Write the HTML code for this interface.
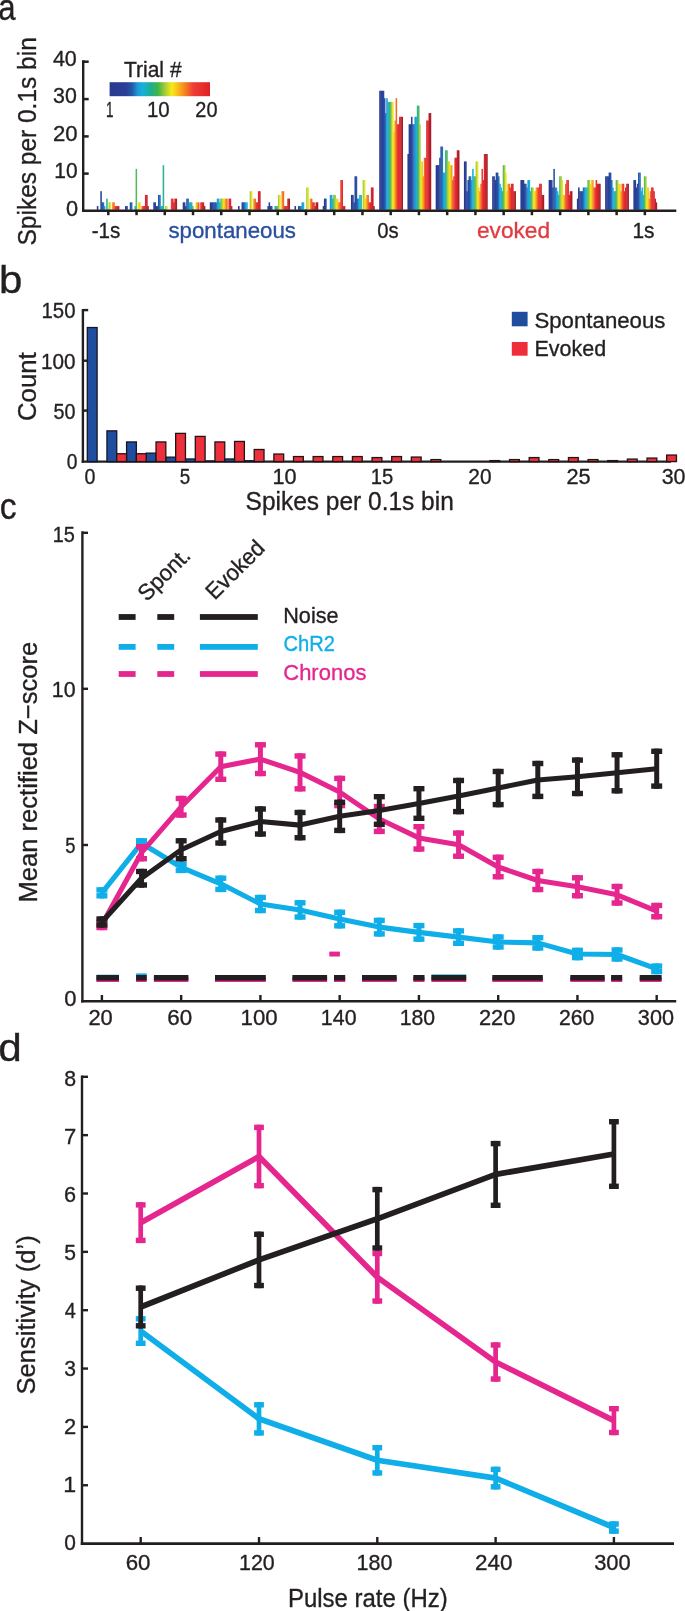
<!DOCTYPE html>
<html><head><meta charset="utf-8"><style>
html,body{margin:0;padding:0;background:#fff;overflow:hidden;}
svg{display:block;will-change:transform;}
text{font-family:"Liberation Sans",sans-serif;paint-order:stroke;stroke-width:0.35px;stroke-linejoin:round;}
</style></head><body>
<svg width="685" height="1611" viewBox="0 0 685 1611" font-family="Liberation Sans, sans-serif">
<rect x="0" y="0" width="685" height="1611" fill="#fff"/>
<text x="-1.72" y="19.95" font-size="36.00" fill="#231f20" stroke="#231f20" textLength="17.32" lengthAdjust="spacingAndGlyphs">a</text>
<text transform="translate(35.80,245.51) rotate(-90)" font-size="26.00" fill="#231f20" stroke="#231f20" textLength="208.30" lengthAdjust="spacingAndGlyphs">Spikes per 0.1s bin</text>
<line x1="108.30" y1="209.50" x2="108.30" y2="215.20" stroke="#231f20" stroke-width="2.5" stroke-linecap="butt"/>
<line x1="136.54" y1="209.50" x2="136.54" y2="215.20" stroke="#231f20" stroke-width="2.5" stroke-linecap="butt"/>
<line x1="164.78" y1="209.50" x2="164.78" y2="215.20" stroke="#231f20" stroke-width="2.5" stroke-linecap="butt"/>
<line x1="193.02" y1="209.50" x2="193.02" y2="215.20" stroke="#231f20" stroke-width="2.5" stroke-linecap="butt"/>
<line x1="221.26" y1="209.50" x2="221.26" y2="215.20" stroke="#231f20" stroke-width="2.5" stroke-linecap="butt"/>
<line x1="249.50" y1="209.50" x2="249.50" y2="215.20" stroke="#231f20" stroke-width="2.5" stroke-linecap="butt"/>
<line x1="277.74" y1="209.50" x2="277.74" y2="215.20" stroke="#231f20" stroke-width="2.5" stroke-linecap="butt"/>
<line x1="305.98" y1="209.50" x2="305.98" y2="215.20" stroke="#231f20" stroke-width="2.5" stroke-linecap="butt"/>
<line x1="334.22" y1="209.50" x2="334.22" y2="215.20" stroke="#231f20" stroke-width="2.5" stroke-linecap="butt"/>
<line x1="362.46" y1="209.50" x2="362.46" y2="215.20" stroke="#231f20" stroke-width="2.5" stroke-linecap="butt"/>
<line x1="390.70" y1="209.50" x2="390.70" y2="215.20" stroke="#231f20" stroke-width="2.5" stroke-linecap="butt"/>
<line x1="418.94" y1="209.50" x2="418.94" y2="215.20" stroke="#231f20" stroke-width="2.5" stroke-linecap="butt"/>
<line x1="447.18" y1="209.50" x2="447.18" y2="215.20" stroke="#231f20" stroke-width="2.5" stroke-linecap="butt"/>
<line x1="475.42" y1="209.50" x2="475.42" y2="215.20" stroke="#231f20" stroke-width="2.5" stroke-linecap="butt"/>
<line x1="503.66" y1="209.50" x2="503.66" y2="215.20" stroke="#231f20" stroke-width="2.5" stroke-linecap="butt"/>
<line x1="531.90" y1="209.50" x2="531.90" y2="215.20" stroke="#231f20" stroke-width="2.5" stroke-linecap="butt"/>
<line x1="560.14" y1="209.50" x2="560.14" y2="215.20" stroke="#231f20" stroke-width="2.5" stroke-linecap="butt"/>
<line x1="588.38" y1="209.50" x2="588.38" y2="215.20" stroke="#231f20" stroke-width="2.5" stroke-linecap="butt"/>
<line x1="616.62" y1="209.50" x2="616.62" y2="215.20" stroke="#231f20" stroke-width="2.5" stroke-linecap="butt"/>
<line x1="644.86" y1="209.50" x2="644.86" y2="215.20" stroke="#231f20" stroke-width="2.5" stroke-linecap="butt"/>
<rect x="96.80" y="206.08" width="1.57" height="3.72" fill="#283a90" />
<rect x="100.31" y="191.20" width="1.57" height="18.60" fill="#28479d" />
<rect x="101.48" y="202.36" width="1.57" height="7.44" fill="#2653a6" />
<rect x="102.65" y="202.36" width="1.57" height="7.44" fill="#2170b8" />
<rect x="103.82" y="206.08" width="1.57" height="3.72" fill="#1d9ad5" />
<rect x="106.16" y="198.64" width="1.57" height="11.16" fill="#2bb39c" />
<rect x="108.50" y="202.36" width="1.57" height="7.44" fill="#a6cd3c" />
<rect x="109.67" y="202.36" width="1.57" height="7.44" fill="#e8e51e" />
<rect x="112.01" y="202.36" width="1.57" height="7.44" fill="#f7a01c" />
<rect x="113.18" y="202.36" width="1.57" height="7.44" fill="#f26a25" />
<rect x="114.35" y="206.08" width="1.57" height="3.72" fill="#ec3f30" />
<rect x="115.52" y="206.08" width="1.57" height="3.72" fill="#e62b30" />
<rect x="116.69" y="206.08" width="1.57" height="3.72" fill="#dc2530" />
<rect x="117.86" y="206.08" width="1.57" height="3.72" fill="#c8222d" />
<rect x="125.04" y="206.08" width="1.57" height="3.72" fill="#283a90" />
<rect x="126.21" y="206.08" width="1.57" height="3.72" fill="#293d93" />
<rect x="129.72" y="202.36" width="1.57" height="7.44" fill="#2653a6" />
<rect x="130.89" y="202.36" width="1.57" height="7.44" fill="#2170b8" />
<rect x="134.40" y="206.08" width="1.57" height="3.72" fill="#2bb39c" />
<rect x="135.57" y="168.88" width="1.57" height="40.92" fill="#5cb85c" />
<rect x="137.91" y="202.36" width="1.57" height="7.44" fill="#e8e51e" />
<rect x="139.08" y="202.36" width="1.57" height="7.44" fill="#f8d01a" />
<rect x="141.42" y="206.08" width="1.57" height="3.72" fill="#f26a25" />
<rect x="142.59" y="206.08" width="1.57" height="3.72" fill="#ec3f30" />
<rect x="143.76" y="206.08" width="1.57" height="3.72" fill="#e62b30" />
<rect x="144.93" y="194.92" width="1.57" height="14.88" fill="#dc2530" />
<rect x="146.10" y="194.92" width="1.57" height="14.88" fill="#c8222d" />
<rect x="147.27" y="206.08" width="1.57" height="3.72" fill="#a51e25" />
<rect x="153.28" y="202.36" width="1.57" height="7.44" fill="#283a90" />
<rect x="154.45" y="202.36" width="1.57" height="7.44" fill="#293d93" />
<rect x="155.62" y="206.08" width="1.57" height="3.72" fill="#2a4197" />
<rect x="156.79" y="206.08" width="1.57" height="3.72" fill="#28479d" />
<rect x="157.96" y="194.92" width="1.57" height="14.88" fill="#2653a6" />
<rect x="159.13" y="194.92" width="1.57" height="14.88" fill="#2170b8" />
<rect x="160.30" y="206.08" width="1.57" height="3.72" fill="#1d9ad5" />
<rect x="161.47" y="206.08" width="1.57" height="3.72" fill="#1bb0dd" />
<rect x="162.64" y="165.16" width="1.57" height="44.64" fill="#2bb39c" />
<rect x="164.98" y="206.08" width="1.57" height="3.72" fill="#a6cd3c" />
<rect x="166.15" y="206.08" width="1.57" height="3.72" fill="#e8e51e" />
<rect x="170.83" y="198.64" width="1.57" height="11.16" fill="#ec3f30" />
<rect x="172.00" y="198.64" width="1.57" height="11.16" fill="#e62b30" />
<rect x="173.17" y="202.36" width="1.57" height="7.44" fill="#dc2530" />
<rect x="174.34" y="198.64" width="1.57" height="11.16" fill="#c8222d" />
<rect x="175.51" y="198.64" width="1.57" height="11.16" fill="#a51e25" />
<rect x="182.69" y="202.36" width="1.57" height="7.44" fill="#293d93" />
<rect x="183.86" y="202.36" width="1.57" height="7.44" fill="#2a4197" />
<rect x="185.03" y="206.08" width="1.57" height="3.72" fill="#28479d" />
<rect x="186.20" y="198.64" width="1.57" height="11.16" fill="#2653a6" />
<rect x="187.37" y="198.64" width="1.57" height="11.16" fill="#2170b8" />
<rect x="188.54" y="202.36" width="1.57" height="7.44" fill="#1d9ad5" />
<rect x="189.71" y="202.36" width="1.57" height="7.44" fill="#1bb0dd" />
<rect x="190.88" y="202.36" width="1.57" height="7.44" fill="#2bb39c" />
<rect x="192.05" y="206.08" width="1.57" height="3.72" fill="#5cb85c" />
<rect x="195.56" y="202.36" width="1.57" height="7.44" fill="#f8d01a" />
<rect x="196.73" y="202.36" width="1.57" height="7.44" fill="#f7a01c" />
<rect x="197.90" y="202.36" width="1.57" height="7.44" fill="#f26a25" />
<rect x="200.24" y="202.36" width="1.57" height="7.44" fill="#e62b30" />
<rect x="201.41" y="202.36" width="1.57" height="7.44" fill="#dc2530" />
<rect x="202.58" y="202.36" width="1.57" height="7.44" fill="#c8222d" />
<rect x="203.75" y="206.08" width="1.57" height="3.72" fill="#a51e25" />
<rect x="209.76" y="202.36" width="1.57" height="7.44" fill="#283a90" />
<rect x="210.93" y="202.36" width="1.57" height="7.44" fill="#293d93" />
<rect x="212.10" y="202.36" width="1.57" height="7.44" fill="#2a4197" />
<rect x="213.27" y="202.36" width="1.57" height="7.44" fill="#28479d" />
<rect x="214.44" y="202.36" width="1.57" height="7.44" fill="#2653a6" />
<rect x="215.61" y="202.36" width="1.57" height="7.44" fill="#2170b8" />
<rect x="216.78" y="198.64" width="1.57" height="11.16" fill="#1d9ad5" />
<rect x="217.95" y="198.64" width="1.57" height="11.16" fill="#1bb0dd" />
<rect x="219.12" y="202.36" width="1.57" height="7.44" fill="#2bb39c" />
<rect x="220.29" y="198.64" width="1.57" height="11.16" fill="#5cb85c" />
<rect x="221.46" y="198.64" width="1.57" height="11.16" fill="#a6cd3c" />
<rect x="222.63" y="198.64" width="1.57" height="11.16" fill="#e8e51e" />
<rect x="223.80" y="198.64" width="1.57" height="11.16" fill="#f8d01a" />
<rect x="224.97" y="198.64" width="1.57" height="11.16" fill="#f7a01c" />
<rect x="226.14" y="198.64" width="1.57" height="11.16" fill="#f26a25" />
<rect x="228.48" y="198.64" width="1.57" height="11.16" fill="#e62b30" />
<rect x="229.65" y="198.64" width="1.57" height="11.16" fill="#dc2530" />
<rect x="230.82" y="206.08" width="1.57" height="3.72" fill="#c8222d" />
<rect x="238.00" y="206.08" width="1.57" height="3.72" fill="#283a90" />
<rect x="241.51" y="202.36" width="1.57" height="7.44" fill="#28479d" />
<rect x="242.68" y="202.36" width="1.57" height="7.44" fill="#2653a6" />
<rect x="243.85" y="202.36" width="1.57" height="7.44" fill="#2170b8" />
<rect x="245.02" y="202.36" width="1.57" height="7.44" fill="#1d9ad5" />
<rect x="246.19" y="202.36" width="1.57" height="7.44" fill="#1bb0dd" />
<rect x="249.70" y="191.20" width="1.57" height="18.60" fill="#a6cd3c" />
<rect x="250.87" y="191.20" width="1.57" height="18.60" fill="#e8e51e" />
<rect x="253.21" y="198.64" width="1.57" height="11.16" fill="#f7a01c" />
<rect x="254.38" y="198.64" width="1.57" height="11.16" fill="#f26a25" />
<rect x="255.55" y="202.36" width="1.57" height="7.44" fill="#ec3f30" />
<rect x="256.72" y="202.36" width="1.57" height="7.44" fill="#e62b30" />
<rect x="257.89" y="191.20" width="1.57" height="18.60" fill="#dc2530" />
<rect x="259.06" y="191.20" width="1.57" height="18.60" fill="#c8222d" />
<rect x="267.41" y="206.08" width="1.57" height="3.72" fill="#293d93" />
<rect x="268.58" y="202.36" width="1.57" height="7.44" fill="#2a4197" />
<rect x="269.75" y="206.08" width="1.57" height="3.72" fill="#28479d" />
<rect x="270.92" y="206.08" width="1.57" height="3.72" fill="#2653a6" />
<rect x="274.43" y="206.08" width="1.57" height="3.72" fill="#1bb0dd" />
<rect x="275.60" y="206.08" width="1.57" height="3.72" fill="#2bb39c" />
<rect x="276.77" y="206.08" width="1.57" height="3.72" fill="#5cb85c" />
<rect x="277.94" y="194.92" width="1.57" height="14.88" fill="#a6cd3c" />
<rect x="279.11" y="194.92" width="1.57" height="14.88" fill="#e8e51e" />
<rect x="281.45" y="191.20" width="1.57" height="18.60" fill="#f7a01c" />
<rect x="282.62" y="191.20" width="1.57" height="18.60" fill="#f26a25" />
<rect x="283.79" y="206.08" width="1.57" height="3.72" fill="#ec3f30" />
<rect x="284.96" y="206.08" width="1.57" height="3.72" fill="#e62b30" />
<rect x="286.13" y="206.08" width="1.57" height="3.72" fill="#dc2530" />
<rect x="287.30" y="198.64" width="1.57" height="11.16" fill="#c8222d" />
<rect x="288.47" y="198.64" width="1.57" height="11.16" fill="#a51e25" />
<rect x="294.48" y="206.08" width="1.57" height="3.72" fill="#283a90" />
<rect x="297.99" y="206.08" width="1.57" height="3.72" fill="#28479d" />
<rect x="299.16" y="206.08" width="1.57" height="3.72" fill="#2653a6" />
<rect x="300.33" y="206.08" width="1.57" height="3.72" fill="#2170b8" />
<rect x="301.50" y="202.36" width="1.57" height="7.44" fill="#1d9ad5" />
<rect x="302.67" y="202.36" width="1.57" height="7.44" fill="#1bb0dd" />
<rect x="306.18" y="187.48" width="1.57" height="22.32" fill="#a6cd3c" />
<rect x="307.35" y="187.48" width="1.57" height="22.32" fill="#e8e51e" />
<rect x="309.69" y="198.64" width="1.57" height="11.16" fill="#f7a01c" />
<rect x="310.86" y="198.64" width="1.57" height="11.16" fill="#f26a25" />
<rect x="312.03" y="202.36" width="1.57" height="7.44" fill="#ec3f30" />
<rect x="313.20" y="202.36" width="1.57" height="7.44" fill="#e62b30" />
<rect x="314.37" y="206.08" width="1.57" height="3.72" fill="#dc2530" />
<rect x="315.54" y="202.36" width="1.57" height="7.44" fill="#c8222d" />
<rect x="316.71" y="202.36" width="1.57" height="7.44" fill="#a51e25" />
<rect x="322.72" y="206.08" width="1.57" height="3.72" fill="#283a90" />
<rect x="323.89" y="198.64" width="1.57" height="11.16" fill="#293d93" />
<rect x="325.06" y="198.64" width="1.57" height="11.16" fill="#2a4197" />
<rect x="329.74" y="194.92" width="1.57" height="14.88" fill="#1d9ad5" />
<rect x="330.91" y="194.92" width="1.57" height="14.88" fill="#1bb0dd" />
<rect x="332.08" y="198.64" width="1.57" height="11.16" fill="#2bb39c" />
<rect x="333.25" y="194.92" width="1.57" height="14.88" fill="#5cb85c" />
<rect x="334.42" y="194.92" width="1.57" height="14.88" fill="#a6cd3c" />
<rect x="335.59" y="198.64" width="1.57" height="11.16" fill="#e8e51e" />
<rect x="336.76" y="198.64" width="1.57" height="11.16" fill="#f8d01a" />
<rect x="337.93" y="202.36" width="1.57" height="7.44" fill="#f7a01c" />
<rect x="339.10" y="202.36" width="1.57" height="7.44" fill="#f26a25" />
<rect x="340.27" y="180.04" width="1.57" height="29.76" fill="#ec3f30" />
<rect x="341.44" y="180.04" width="1.57" height="29.76" fill="#e62b30" />
<rect x="342.61" y="206.08" width="1.57" height="3.72" fill="#dc2530" />
<rect x="343.78" y="206.08" width="1.57" height="3.72" fill="#c8222d" />
<rect x="350.96" y="194.92" width="1.57" height="14.88" fill="#283a90" />
<rect x="352.13" y="194.92" width="1.57" height="14.88" fill="#293d93" />
<rect x="353.30" y="202.36" width="1.57" height="7.44" fill="#2a4197" />
<rect x="354.47" y="176.32" width="1.57" height="33.48" fill="#28479d" />
<rect x="355.64" y="176.32" width="1.57" height="33.48" fill="#2653a6" />
<rect x="356.81" y="198.64" width="1.57" height="11.16" fill="#2170b8" />
<rect x="357.98" y="198.64" width="1.57" height="11.16" fill="#1d9ad5" />
<rect x="359.15" y="194.92" width="1.57" height="14.88" fill="#1bb0dd" />
<rect x="360.32" y="194.92" width="1.57" height="14.88" fill="#2bb39c" />
<rect x="362.66" y="180.04" width="1.57" height="29.76" fill="#a6cd3c" />
<rect x="363.83" y="180.04" width="1.57" height="29.76" fill="#e8e51e" />
<rect x="365.00" y="198.64" width="1.57" height="11.16" fill="#f8d01a" />
<rect x="366.17" y="194.92" width="1.57" height="14.88" fill="#f7a01c" />
<rect x="367.34" y="194.92" width="1.57" height="14.88" fill="#f26a25" />
<rect x="368.51" y="202.36" width="1.57" height="7.44" fill="#ec3f30" />
<rect x="369.68" y="202.36" width="1.57" height="7.44" fill="#e62b30" />
<rect x="370.85" y="187.48" width="1.57" height="22.32" fill="#dc2530" />
<rect x="372.02" y="187.48" width="1.57" height="22.32" fill="#c8222d" />
<rect x="373.19" y="206.08" width="1.57" height="3.72" fill="#a51e25" />
<rect x="379.20" y="90.76" width="1.57" height="119.04" fill="#283a90" />
<rect x="380.37" y="90.76" width="1.57" height="119.04" fill="#293d93" />
<rect x="381.54" y="90.76" width="1.57" height="119.04" fill="#2a4197" />
<rect x="382.71" y="90.76" width="1.57" height="119.04" fill="#28479d" />
<rect x="383.88" y="98.20" width="1.57" height="111.60" fill="#2653a6" />
<rect x="385.05" y="113.08" width="1.57" height="96.72" fill="#2170b8" />
<rect x="386.22" y="98.20" width="1.57" height="111.60" fill="#1d9ad5" />
<rect x="387.39" y="101.92" width="1.57" height="107.88" fill="#1bb0dd" />
<rect x="388.56" y="101.92" width="1.57" height="107.88" fill="#2bb39c" />
<rect x="389.73" y="101.92" width="1.57" height="107.88" fill="#5cb85c" />
<rect x="390.90" y="101.92" width="1.57" height="107.88" fill="#a6cd3c" />
<rect x="392.07" y="101.92" width="1.57" height="107.88" fill="#e8e51e" />
<rect x="393.24" y="131.68" width="1.57" height="78.12" fill="#f8d01a" />
<rect x="394.41" y="120.52" width="1.57" height="89.28" fill="#f7a01c" />
<rect x="395.58" y="98.20" width="1.57" height="111.60" fill="#f26a25" />
<rect x="396.75" y="124.24" width="1.57" height="85.56" fill="#ec3f30" />
<rect x="397.92" y="124.24" width="1.57" height="85.56" fill="#e62b30" />
<rect x="399.09" y="116.80" width="1.57" height="93.00" fill="#dc2530" />
<rect x="400.26" y="116.80" width="1.57" height="93.00" fill="#c8222d" />
<rect x="401.43" y="116.80" width="1.57" height="93.00" fill="#a51e25" />
<rect x="407.44" y="154.00" width="1.57" height="55.80" fill="#283a90" />
<rect x="408.61" y="124.24" width="1.57" height="85.56" fill="#293d93" />
<rect x="409.78" y="124.24" width="1.57" height="85.56" fill="#2a4197" />
<rect x="410.95" y="116.80" width="1.57" height="93.00" fill="#28479d" />
<rect x="412.12" y="124.24" width="1.57" height="85.56" fill="#2653a6" />
<rect x="413.29" y="124.24" width="1.57" height="85.56" fill="#2170b8" />
<rect x="414.46" y="116.80" width="1.57" height="93.00" fill="#1d9ad5" />
<rect x="415.63" y="116.80" width="1.57" height="93.00" fill="#1bb0dd" />
<rect x="416.80" y="105.64" width="1.57" height="104.16" fill="#2bb39c" />
<rect x="417.97" y="105.64" width="1.57" height="104.16" fill="#5cb85c" />
<rect x="419.14" y="124.24" width="1.57" height="85.56" fill="#a6cd3c" />
<rect x="420.31" y="161.44" width="1.57" height="48.36" fill="#e8e51e" />
<rect x="421.48" y="161.44" width="1.57" height="48.36" fill="#f8d01a" />
<rect x="422.65" y="176.32" width="1.57" height="33.48" fill="#f7a01c" />
<rect x="423.82" y="157.72" width="1.57" height="52.08" fill="#f26a25" />
<rect x="424.99" y="157.72" width="1.57" height="52.08" fill="#ec3f30" />
<rect x="426.16" y="120.52" width="1.57" height="89.28" fill="#e62b30" />
<rect x="427.33" y="120.52" width="1.57" height="89.28" fill="#dc2530" />
<rect x="428.50" y="113.08" width="1.57" height="96.72" fill="#c8222d" />
<rect x="429.67" y="113.08" width="1.57" height="96.72" fill="#a51e25" />
<rect x="435.68" y="165.16" width="1.57" height="44.64" fill="#283a90" />
<rect x="436.85" y="165.16" width="1.57" height="44.64" fill="#293d93" />
<rect x="438.02" y="165.16" width="1.57" height="44.64" fill="#2a4197" />
<rect x="439.19" y="157.72" width="1.57" height="52.08" fill="#28479d" />
<rect x="440.36" y="146.56" width="1.57" height="63.24" fill="#2653a6" />
<rect x="441.53" y="146.56" width="1.57" height="63.24" fill="#2170b8" />
<rect x="442.70" y="172.60" width="1.57" height="37.20" fill="#1d9ad5" />
<rect x="443.87" y="172.60" width="1.57" height="37.20" fill="#1bb0dd" />
<rect x="445.04" y="150.28" width="1.57" height="59.52" fill="#2bb39c" />
<rect x="446.21" y="150.28" width="1.57" height="59.52" fill="#5cb85c" />
<rect x="447.38" y="161.44" width="1.57" height="48.36" fill="#a6cd3c" />
<rect x="448.55" y="161.44" width="1.57" height="48.36" fill="#e8e51e" />
<rect x="449.72" y="165.16" width="1.57" height="44.64" fill="#f8d01a" />
<rect x="450.89" y="165.16" width="1.57" height="44.64" fill="#f7a01c" />
<rect x="452.06" y="180.04" width="1.57" height="29.76" fill="#f26a25" />
<rect x="453.23" y="176.32" width="1.57" height="33.48" fill="#ec3f30" />
<rect x="454.40" y="157.72" width="1.57" height="52.08" fill="#e62b30" />
<rect x="455.57" y="157.72" width="1.57" height="52.08" fill="#dc2530" />
<rect x="456.74" y="150.28" width="1.57" height="59.52" fill="#c8222d" />
<rect x="457.91" y="150.28" width="1.57" height="59.52" fill="#a51e25" />
<rect x="463.92" y="161.44" width="1.57" height="48.36" fill="#283a90" />
<rect x="465.09" y="161.44" width="1.57" height="48.36" fill="#293d93" />
<rect x="466.26" y="191.20" width="1.57" height="18.60" fill="#2a4197" />
<rect x="467.43" y="180.04" width="1.57" height="29.76" fill="#28479d" />
<rect x="468.60" y="176.32" width="1.57" height="33.48" fill="#2653a6" />
<rect x="469.77" y="176.32" width="1.57" height="33.48" fill="#2170b8" />
<rect x="470.94" y="180.04" width="1.57" height="29.76" fill="#1d9ad5" />
<rect x="472.11" y="168.88" width="1.57" height="40.92" fill="#1bb0dd" />
<rect x="473.28" y="176.32" width="1.57" height="33.48" fill="#2bb39c" />
<rect x="474.45" y="176.32" width="1.57" height="33.48" fill="#5cb85c" />
<rect x="475.62" y="161.44" width="1.57" height="48.36" fill="#a6cd3c" />
<rect x="476.79" y="161.44" width="1.57" height="48.36" fill="#e8e51e" />
<rect x="477.96" y="187.48" width="1.57" height="22.32" fill="#f8d01a" />
<rect x="479.13" y="191.20" width="1.57" height="18.60" fill="#f7a01c" />
<rect x="480.30" y="183.76" width="1.57" height="26.04" fill="#f26a25" />
<rect x="481.47" y="168.88" width="1.57" height="40.92" fill="#ec3f30" />
<rect x="482.64" y="180.04" width="1.57" height="29.76" fill="#e62b30" />
<rect x="483.81" y="154.00" width="1.57" height="55.80" fill="#dc2530" />
<rect x="484.98" y="154.00" width="1.57" height="55.80" fill="#c8222d" />
<rect x="486.15" y="154.00" width="1.57" height="55.80" fill="#a51e25" />
<rect x="492.16" y="176.32" width="1.57" height="33.48" fill="#283a90" />
<rect x="493.33" y="176.32" width="1.57" height="33.48" fill="#293d93" />
<rect x="494.50" y="180.04" width="1.57" height="29.76" fill="#2a4197" />
<rect x="495.67" y="172.60" width="1.57" height="37.20" fill="#28479d" />
<rect x="496.84" y="172.60" width="1.57" height="37.20" fill="#2653a6" />
<rect x="498.01" y="176.32" width="1.57" height="33.48" fill="#2170b8" />
<rect x="499.18" y="183.76" width="1.57" height="26.04" fill="#1d9ad5" />
<rect x="500.35" y="187.48" width="1.57" height="22.32" fill="#1bb0dd" />
<rect x="501.52" y="191.20" width="1.57" height="18.60" fill="#2bb39c" />
<rect x="502.69" y="165.16" width="1.57" height="44.64" fill="#5cb85c" />
<rect x="503.86" y="165.16" width="1.57" height="44.64" fill="#a6cd3c" />
<rect x="505.03" y="172.60" width="1.57" height="37.20" fill="#e8e51e" />
<rect x="506.20" y="191.20" width="1.57" height="18.60" fill="#f8d01a" />
<rect x="507.37" y="183.76" width="1.57" height="26.04" fill="#f7a01c" />
<rect x="508.54" y="183.76" width="1.57" height="26.04" fill="#f26a25" />
<rect x="509.71" y="187.48" width="1.57" height="22.32" fill="#ec3f30" />
<rect x="510.88" y="183.76" width="1.57" height="26.04" fill="#e62b30" />
<rect x="512.05" y="183.76" width="1.57" height="26.04" fill="#dc2530" />
<rect x="513.22" y="191.20" width="1.57" height="18.60" fill="#c8222d" />
<rect x="514.39" y="191.20" width="1.57" height="18.60" fill="#a51e25" />
<rect x="520.40" y="180.04" width="1.57" height="29.76" fill="#283a90" />
<rect x="521.57" y="180.04" width="1.57" height="29.76" fill="#293d93" />
<rect x="522.74" y="180.04" width="1.57" height="29.76" fill="#2a4197" />
<rect x="523.91" y="183.76" width="1.57" height="26.04" fill="#28479d" />
<rect x="525.08" y="183.76" width="1.57" height="26.04" fill="#2653a6" />
<rect x="526.25" y="187.48" width="1.57" height="22.32" fill="#2170b8" />
<rect x="527.42" y="180.04" width="1.57" height="29.76" fill="#1d9ad5" />
<rect x="528.59" y="180.04" width="1.57" height="29.76" fill="#1bb0dd" />
<rect x="529.76" y="191.20" width="1.57" height="18.60" fill="#2bb39c" />
<rect x="530.93" y="187.48" width="1.57" height="22.32" fill="#5cb85c" />
<rect x="532.10" y="187.48" width="1.57" height="22.32" fill="#a6cd3c" />
<rect x="533.27" y="191.20" width="1.57" height="18.60" fill="#e8e51e" />
<rect x="534.44" y="191.20" width="1.57" height="18.60" fill="#f8d01a" />
<rect x="535.61" y="187.48" width="1.57" height="22.32" fill="#f7a01c" />
<rect x="536.78" y="187.48" width="1.57" height="22.32" fill="#f26a25" />
<rect x="537.95" y="187.48" width="1.57" height="22.32" fill="#ec3f30" />
<rect x="539.12" y="183.76" width="1.57" height="26.04" fill="#e62b30" />
<rect x="540.29" y="183.76" width="1.57" height="26.04" fill="#dc2530" />
<rect x="541.46" y="194.92" width="1.57" height="14.88" fill="#c8222d" />
<rect x="542.63" y="194.92" width="1.57" height="14.88" fill="#a51e25" />
<rect x="548.64" y="180.04" width="1.57" height="29.76" fill="#283a90" />
<rect x="549.81" y="180.04" width="1.57" height="29.76" fill="#293d93" />
<rect x="550.98" y="180.04" width="1.57" height="29.76" fill="#2a4197" />
<rect x="552.15" y="187.48" width="1.57" height="22.32" fill="#28479d" />
<rect x="553.32" y="168.88" width="1.57" height="40.92" fill="#2653a6" />
<rect x="554.49" y="187.48" width="1.57" height="22.32" fill="#2170b8" />
<rect x="555.66" y="187.48" width="1.57" height="22.32" fill="#1d9ad5" />
<rect x="556.83" y="191.20" width="1.57" height="18.60" fill="#1bb0dd" />
<rect x="558.00" y="194.92" width="1.57" height="14.88" fill="#2bb39c" />
<rect x="559.17" y="176.32" width="1.57" height="33.48" fill="#5cb85c" />
<rect x="560.34" y="176.32" width="1.57" height="33.48" fill="#a6cd3c" />
<rect x="561.51" y="180.04" width="1.57" height="29.76" fill="#e8e51e" />
<rect x="562.68" y="194.92" width="1.57" height="14.88" fill="#f8d01a" />
<rect x="563.85" y="194.92" width="1.57" height="14.88" fill="#f7a01c" />
<rect x="565.02" y="183.76" width="1.57" height="26.04" fill="#f26a25" />
<rect x="566.19" y="180.04" width="1.57" height="29.76" fill="#ec3f30" />
<rect x="567.36" y="180.04" width="1.57" height="29.76" fill="#e62b30" />
<rect x="568.53" y="194.92" width="1.57" height="14.88" fill="#dc2530" />
<rect x="569.70" y="191.20" width="1.57" height="18.60" fill="#c8222d" />
<rect x="570.87" y="191.20" width="1.57" height="18.60" fill="#a51e25" />
<rect x="576.88" y="198.64" width="1.57" height="11.16" fill="#283a90" />
<rect x="578.05" y="187.48" width="1.57" height="22.32" fill="#293d93" />
<rect x="579.22" y="191.20" width="1.57" height="18.60" fill="#2a4197" />
<rect x="580.39" y="191.20" width="1.57" height="18.60" fill="#28479d" />
<rect x="581.56" y="191.20" width="1.57" height="18.60" fill="#2653a6" />
<rect x="582.73" y="187.48" width="1.57" height="22.32" fill="#2170b8" />
<rect x="583.90" y="187.48" width="1.57" height="22.32" fill="#1d9ad5" />
<rect x="585.07" y="187.48" width="1.57" height="22.32" fill="#1bb0dd" />
<rect x="586.24" y="187.48" width="1.57" height="22.32" fill="#2bb39c" />
<rect x="587.41" y="180.04" width="1.57" height="29.76" fill="#5cb85c" />
<rect x="588.58" y="180.04" width="1.57" height="29.76" fill="#a6cd3c" />
<rect x="589.75" y="183.76" width="1.57" height="26.04" fill="#e8e51e" />
<rect x="590.92" y="180.04" width="1.57" height="29.76" fill="#f8d01a" />
<rect x="592.09" y="180.04" width="1.57" height="29.76" fill="#f7a01c" />
<rect x="593.26" y="187.48" width="1.57" height="22.32" fill="#f26a25" />
<rect x="594.43" y="187.48" width="1.57" height="22.32" fill="#ec3f30" />
<rect x="595.60" y="180.04" width="1.57" height="29.76" fill="#e62b30" />
<rect x="596.77" y="183.76" width="1.57" height="26.04" fill="#dc2530" />
<rect x="597.94" y="183.76" width="1.57" height="26.04" fill="#c8222d" />
<rect x="599.11" y="183.76" width="1.57" height="26.04" fill="#a51e25" />
<rect x="605.12" y="176.32" width="1.57" height="33.48" fill="#283a90" />
<rect x="606.29" y="176.32" width="1.57" height="33.48" fill="#293d93" />
<rect x="607.46" y="176.32" width="1.57" height="33.48" fill="#2a4197" />
<rect x="608.63" y="172.60" width="1.57" height="37.20" fill="#28479d" />
<rect x="609.80" y="172.60" width="1.57" height="37.20" fill="#2653a6" />
<rect x="610.97" y="180.04" width="1.57" height="29.76" fill="#2170b8" />
<rect x="612.14" y="187.48" width="1.57" height="22.32" fill="#1d9ad5" />
<rect x="613.31" y="191.20" width="1.57" height="18.60" fill="#1bb0dd" />
<rect x="614.48" y="191.20" width="1.57" height="18.60" fill="#2bb39c" />
<rect x="615.65" y="180.04" width="1.57" height="29.76" fill="#5cb85c" />
<rect x="616.82" y="180.04" width="1.57" height="29.76" fill="#a6cd3c" />
<rect x="617.99" y="183.76" width="1.57" height="26.04" fill="#e8e51e" />
<rect x="619.16" y="183.76" width="1.57" height="26.04" fill="#f8d01a" />
<rect x="620.33" y="191.20" width="1.57" height="18.60" fill="#f7a01c" />
<rect x="621.50" y="183.76" width="1.57" height="26.04" fill="#f26a25" />
<rect x="622.67" y="183.76" width="1.57" height="26.04" fill="#ec3f30" />
<rect x="623.84" y="191.20" width="1.57" height="18.60" fill="#e62b30" />
<rect x="625.01" y="187.48" width="1.57" height="22.32" fill="#dc2530" />
<rect x="626.18" y="183.76" width="1.57" height="26.04" fill="#c8222d" />
<rect x="627.35" y="183.76" width="1.57" height="26.04" fill="#a51e25" />
<rect x="633.36" y="180.04" width="1.57" height="29.76" fill="#283a90" />
<rect x="634.53" y="180.04" width="1.57" height="29.76" fill="#293d93" />
<rect x="635.70" y="187.48" width="1.57" height="22.32" fill="#2a4197" />
<rect x="636.87" y="183.76" width="1.57" height="26.04" fill="#28479d" />
<rect x="638.04" y="172.60" width="1.57" height="37.20" fill="#2653a6" />
<rect x="639.21" y="172.60" width="1.57" height="37.20" fill="#2170b8" />
<rect x="640.38" y="191.20" width="1.57" height="18.60" fill="#1d9ad5" />
<rect x="641.55" y="187.48" width="1.57" height="22.32" fill="#1bb0dd" />
<rect x="642.72" y="194.92" width="1.57" height="14.88" fill="#2bb39c" />
<rect x="643.89" y="176.32" width="1.57" height="33.48" fill="#5cb85c" />
<rect x="645.06" y="176.32" width="1.57" height="33.48" fill="#a6cd3c" />
<rect x="646.23" y="187.48" width="1.57" height="22.32" fill="#e8e51e" />
<rect x="647.40" y="187.48" width="1.57" height="22.32" fill="#f8d01a" />
<rect x="648.57" y="198.64" width="1.57" height="11.16" fill="#f7a01c" />
<rect x="649.74" y="191.20" width="1.57" height="18.60" fill="#f26a25" />
<rect x="650.91" y="187.48" width="1.57" height="22.32" fill="#ec3f30" />
<rect x="652.08" y="187.48" width="1.57" height="22.32" fill="#e62b30" />
<rect x="653.25" y="191.20" width="1.57" height="18.60" fill="#dc2530" />
<rect x="654.42" y="198.64" width="1.57" height="11.16" fill="#c8222d" />
<rect x="655.59" y="202.36" width="1.57" height="7.44" fill="#a51e25" />
<line x1="83.20" y1="60.20" x2="83.20" y2="211.90" stroke="#231f20" stroke-width="2.4" stroke-linecap="butt"/>
<line x1="82.00" y1="210.80" x2="676.30" y2="210.80" stroke="#231f20" stroke-width="2.5" stroke-linecap="butt"/>
<line x1="83.20" y1="61.70" x2="88.70" y2="61.70" stroke="#231f20" stroke-width="2.5" stroke-linecap="butt"/>
<line x1="83.20" y1="99.10" x2="88.70" y2="99.10" stroke="#231f20" stroke-width="2.5" stroke-linecap="butt"/>
<line x1="83.20" y1="136.40" x2="88.70" y2="136.40" stroke="#231f20" stroke-width="2.5" stroke-linecap="butt"/>
<line x1="83.20" y1="173.60" x2="88.70" y2="173.60" stroke="#231f20" stroke-width="2.5" stroke-linecap="butt"/>
<text x="52.91" y="66.29" font-size="22.20" fill="#231f20" stroke="#231f20" textLength="23.93" lengthAdjust="spacingAndGlyphs">40</text>
<text x="53.09" y="103.14" font-size="22.20" fill="#231f20" stroke="#231f20" textLength="23.75" lengthAdjust="spacingAndGlyphs">30</text>
<text x="52.98" y="140.99" font-size="22.20" fill="#231f20" stroke="#231f20" textLength="24.68" lengthAdjust="spacingAndGlyphs">20</text>
<text x="54.30" y="177.64" font-size="22.20" fill="#231f20" stroke="#231f20" textLength="23.32" lengthAdjust="spacingAndGlyphs">10</text>
<text x="66.05" y="216.34" font-size="22.20" fill="#231f20" stroke="#231f20" textLength="12.10" lengthAdjust="spacingAndGlyphs">0</text>
<text x="91.68" y="238.10" font-size="22.20" fill="#231f20" stroke="#231f20" textLength="28.66" lengthAdjust="spacingAndGlyphs">-1s</text>
<text x="168.38" y="238.20" font-size="22.50" fill="#2a4f9f" stroke="#2a4f9f" textLength="127.63" lengthAdjust="spacingAndGlyphs">spontaneous</text>
<text x="377.31" y="238.20" font-size="22.20" fill="#231f20" stroke="#231f20" textLength="21.43" lengthAdjust="spacingAndGlyphs">0s</text>
<text x="476.94" y="238.20" font-size="22.00" fill="#e03b42" stroke="#e03b42" textLength="73.12" lengthAdjust="spacingAndGlyphs">evoked</text>
<text x="632.51" y="238.40" font-size="22.20" fill="#231f20" stroke="#231f20" textLength="22.04" lengthAdjust="spacingAndGlyphs">1s</text>
<defs><linearGradient id="cb" x1="0" x2="1" y1="0" y2="0"><stop offset="0" stop-color="#2b3990"/><stop offset="0.16" stop-color="#2a3f97"/><stop offset="0.22" stop-color="#2356a6"/><stop offset="0.28" stop-color="#1c9bd7"/><stop offset="0.33" stop-color="#18b1dc"/><stop offset="0.41" stop-color="#1fae8f"/><stop offset="0.48" stop-color="#3db54a"/><stop offset="0.55" stop-color="#a4cb39"/><stop offset="0.62" stop-color="#f7eb17"/><stop offset="0.69" stop-color="#f9b41c"/><stop offset="0.76" stop-color="#f47b20"/><stop offset="0.83" stop-color="#ee3f35"/><stop offset="1" stop-color="#e11f26"/></linearGradient></defs>
<rect x="109.60" y="82.20" width="100.40" height="14.00" fill="url(#cb)" />
<text x="123.93" y="77.30" font-size="22.20" fill="#231f20" stroke="#231f20" textLength="57.67" lengthAdjust="spacingAndGlyphs">Trial #</text>
<text x="105.98" y="116.79" font-size="22.20" fill="#231f20" stroke="#231f20" textLength="7.48" lengthAdjust="spacingAndGlyphs">1</text>
<text x="146.94" y="116.79" font-size="22.20" fill="#231f20" stroke="#231f20" textLength="22.76" lengthAdjust="spacingAndGlyphs">10</text>
<text x="195.30" y="116.79" font-size="22.20" fill="#231f20" stroke="#231f20" textLength="22.18" lengthAdjust="spacingAndGlyphs">20</text>
<text x="-1.01" y="292.81" font-size="39.50" fill="#231f20" stroke="#231f20" textLength="23.37" lengthAdjust="spacingAndGlyphs">b</text>
<text transform="translate(35.90,421.01) rotate(-90)" font-size="26.00" fill="#231f20" stroke="#231f20" textLength="68.70" lengthAdjust="spacingAndGlyphs">Count</text>
<line x1="82.90" y1="309.00" x2="82.90" y2="462.80" stroke="#231f20" stroke-width="2.4" stroke-linecap="butt"/>
<line x1="81.70" y1="461.60" x2="671.00" y2="461.60" stroke="#231f20" stroke-width="2.2" stroke-linecap="butt"/>
<rect x="87.30" y="327.54" width="9.80" height="134.06" fill="#1f4e9f" stroke="#15152a" stroke-width="1.3"/>
<rect x="106.94" y="430.86" width="9.80" height="30.74" fill="#1f4e9f" stroke="#15152a" stroke-width="1.3"/>
<rect x="126.58" y="441.94" width="9.80" height="19.66" fill="#1f4e9f" stroke="#15152a" stroke-width="1.3"/>
<rect x="146.22" y="453.13" width="9.80" height="8.47" fill="#1f4e9f" stroke="#15152a" stroke-width="1.3"/>
<rect x="165.86" y="457.16" width="9.80" height="4.44" fill="#1f4e9f" stroke="#15152a" stroke-width="1.3"/>
<rect x="185.50" y="458.98" width="9.80" height="2.62" fill="#1f4e9f" stroke="#15152a" stroke-width="1.3"/>
<rect x="205.14" y="461.00" width="9.80" height="0.60" fill="#1f4e9f" stroke="#15152a" stroke-width="1.3"/>
<rect x="224.78" y="458.98" width="9.80" height="2.62" fill="#1f4e9f" stroke="#15152a" stroke-width="1.3"/>
<rect x="244.42" y="460.79" width="9.80" height="0.81" fill="#1f4e9f" stroke="#15152a" stroke-width="1.3"/>
<rect x="116.74" y="453.74" width="9.80" height="7.86" fill="#ee2e3b" stroke="#221416" stroke-width="1.3"/>
<rect x="136.38" y="453.74" width="9.80" height="7.86" fill="#ee2e3b" stroke="#221416" stroke-width="1.3"/>
<rect x="156.02" y="441.94" width="9.80" height="19.66" fill="#ee2e3b" stroke="#221416" stroke-width="1.3"/>
<rect x="175.66" y="433.38" width="9.80" height="28.22" fill="#ee2e3b" stroke="#221416" stroke-width="1.3"/>
<rect x="195.30" y="436.40" width="9.80" height="25.20" fill="#ee2e3b" stroke="#221416" stroke-width="1.3"/>
<rect x="214.94" y="441.94" width="9.80" height="19.66" fill="#ee2e3b" stroke="#221416" stroke-width="1.3"/>
<rect x="234.58" y="441.44" width="9.80" height="20.16" fill="#ee2e3b" stroke="#221416" stroke-width="1.3"/>
<rect x="254.22" y="449.50" width="9.80" height="12.10" fill="#ee2e3b" stroke="#221416" stroke-width="1.3"/>
<rect x="273.86" y="454.04" width="9.80" height="7.56" fill="#ee2e3b" stroke="#221416" stroke-width="1.3"/>
<rect x="293.50" y="456.56" width="9.80" height="5.04" fill="#ee2e3b" stroke="#221416" stroke-width="1.3"/>
<rect x="313.14" y="456.56" width="9.80" height="5.04" fill="#ee2e3b" stroke="#221416" stroke-width="1.3"/>
<rect x="332.78" y="456.56" width="9.80" height="5.04" fill="#ee2e3b" stroke="#221416" stroke-width="1.3"/>
<rect x="352.42" y="456.56" width="9.80" height="5.04" fill="#ee2e3b" stroke="#221416" stroke-width="1.3"/>
<rect x="372.06" y="457.57" width="9.80" height="4.03" fill="#ee2e3b" stroke="#221416" stroke-width="1.3"/>
<rect x="391.70" y="456.56" width="9.80" height="5.04" fill="#ee2e3b" stroke="#221416" stroke-width="1.3"/>
<rect x="411.34" y="457.06" width="9.80" height="4.54" fill="#ee2e3b" stroke="#221416" stroke-width="1.3"/>
<rect x="430.98" y="459.58" width="9.80" height="2.02" fill="#ee2e3b" stroke="#221416" stroke-width="1.3"/>
<rect x="489.90" y="460.59" width="9.80" height="1.01" fill="#ee2e3b" stroke="#221416" stroke-width="1.3"/>
<rect x="509.54" y="459.58" width="9.80" height="2.02" fill="#ee2e3b" stroke="#221416" stroke-width="1.3"/>
<rect x="529.18" y="457.57" width="9.80" height="4.03" fill="#ee2e3b" stroke="#221416" stroke-width="1.3"/>
<rect x="548.82" y="459.58" width="9.80" height="2.02" fill="#ee2e3b" stroke="#221416" stroke-width="1.3"/>
<rect x="568.46" y="457.57" width="9.80" height="4.03" fill="#ee2e3b" stroke="#221416" stroke-width="1.3"/>
<rect x="588.10" y="459.58" width="9.80" height="2.02" fill="#ee2e3b" stroke="#221416" stroke-width="1.3"/>
<rect x="607.74" y="460.59" width="9.80" height="1.01" fill="#ee2e3b" stroke="#221416" stroke-width="1.3"/>
<rect x="627.38" y="459.08" width="9.80" height="2.52" fill="#ee2e3b" stroke="#221416" stroke-width="1.3"/>
<rect x="647.02" y="458.07" width="9.80" height="3.53" fill="#ee2e3b" stroke="#221416" stroke-width="1.3"/>
<rect x="666.66" y="455.05" width="9.80" height="6.55" fill="#ee2e3b" stroke="#221416" stroke-width="1.3"/>
<line x1="82.90" y1="310.10" x2="88.20" y2="310.10" stroke="#231f20" stroke-width="2.4" stroke-linecap="butt"/>
<line x1="82.90" y1="360.70" x2="88.20" y2="360.70" stroke="#231f20" stroke-width="2.4" stroke-linecap="butt"/>
<line x1="82.90" y1="410.60" x2="88.20" y2="410.60" stroke="#231f20" stroke-width="2.4" stroke-linecap="butt"/>
<text x="41.55" y="318.39" font-size="22.20" fill="#231f20" stroke="#231f20" textLength="33.94" lengthAdjust="spacingAndGlyphs">150</text>
<text x="40.92" y="368.64" font-size="22.20" fill="#231f20" stroke="#231f20" textLength="34.59" lengthAdjust="spacingAndGlyphs">100</text>
<text x="53.51" y="419.24" font-size="22.20" fill="#231f20" stroke="#231f20" textLength="21.96" lengthAdjust="spacingAndGlyphs">50</text>
<text x="66.75" y="469.14" font-size="22.20" fill="#231f20" stroke="#231f20" textLength="10.70" lengthAdjust="spacingAndGlyphs">0</text>
<text x="84.43" y="483.54" font-size="22.20" fill="#231f20" stroke="#231f20" textLength="10.94" lengthAdjust="spacingAndGlyphs">0</text>
<text x="179.85" y="483.54" font-size="22.20" fill="#231f20" stroke="#231f20" textLength="10.44" lengthAdjust="spacingAndGlyphs">5</text>
<text x="272.45" y="483.54" font-size="22.20" fill="#231f20" stroke="#231f20" textLength="24.10" lengthAdjust="spacingAndGlyphs">10</text>
<text x="370.66" y="483.54" font-size="22.20" fill="#231f20" stroke="#231f20" textLength="22.49" lengthAdjust="spacingAndGlyphs">15</text>
<text x="468.35" y="483.54" font-size="22.20" fill="#231f20" stroke="#231f20" textLength="23.27" lengthAdjust="spacingAndGlyphs">20</text>
<text x="566.51" y="483.54" font-size="22.20" fill="#231f20" stroke="#231f20" textLength="24.21" lengthAdjust="spacingAndGlyphs">25</text>
<text x="661.68" y="483.54" font-size="22.20" fill="#231f20" stroke="#231f20" textLength="23.85" lengthAdjust="spacingAndGlyphs">30</text>
<text x="245.59" y="510.40" font-size="26.00" fill="#231f20" stroke="#231f20" textLength="208.20" lengthAdjust="spacingAndGlyphs">Spikes per 0.1s bin</text>
<rect x="511.80" y="311.80" width="15.80" height="14.50" fill="#1f4e9f" />
<rect x="511.80" y="342.00" width="15.80" height="13.70" fill="#ee2e3b" />
<text x="534.39" y="327.60" font-size="22.60" fill="#231f20" stroke="#231f20" textLength="131.11" lengthAdjust="spacingAndGlyphs">Spontaneous</text>
<text x="534.54" y="355.70" font-size="22.60" fill="#231f20" stroke="#231f20" textLength="71.65" lengthAdjust="spacingAndGlyphs">Evoked</text>
<text x="-0.13" y="518.83" font-size="37.50" fill="#231f20" stroke="#231f20" textLength="16.82" lengthAdjust="spacingAndGlyphs">c</text>
<text transform="translate(36.80,902.50) rotate(-90)" font-size="26.00" fill="#231f20" stroke="#231f20" textLength="260.73" lengthAdjust="spacingAndGlyphs">Mean rectified Z−score</text>
<line x1="82.40" y1="531.30" x2="82.40" y2="1002.40" stroke="#231f20" stroke-width="2.4" stroke-linecap="butt"/>
<line x1="81.20" y1="1001.20" x2="676.20" y2="1001.20" stroke="#231f20" stroke-width="2.6" stroke-linecap="butt"/>
<line x1="82.40" y1="532.80" x2="88.00" y2="532.80" stroke="#231f20" stroke-width="2.4" stroke-linecap="butt"/>
<line x1="82.40" y1="688.80" x2="88.00" y2="688.80" stroke="#231f20" stroke-width="2.4" stroke-linecap="butt"/>
<line x1="82.40" y1="845.00" x2="88.00" y2="845.00" stroke="#231f20" stroke-width="2.4" stroke-linecap="butt"/>
<line x1="101.90" y1="995.00" x2="101.90" y2="1001.00" stroke="#231f20" stroke-width="2.4" stroke-linecap="butt"/>
<line x1="181.16" y1="995.00" x2="181.16" y2="1001.00" stroke="#231f20" stroke-width="2.4" stroke-linecap="butt"/>
<line x1="260.41" y1="995.00" x2="260.41" y2="1001.00" stroke="#231f20" stroke-width="2.4" stroke-linecap="butt"/>
<line x1="339.67" y1="995.00" x2="339.67" y2="1001.00" stroke="#231f20" stroke-width="2.4" stroke-linecap="butt"/>
<line x1="418.92" y1="995.00" x2="418.92" y2="1001.00" stroke="#231f20" stroke-width="2.4" stroke-linecap="butt"/>
<line x1="498.18" y1="995.00" x2="498.18" y2="1001.00" stroke="#231f20" stroke-width="2.4" stroke-linecap="butt"/>
<line x1="577.44" y1="995.00" x2="577.44" y2="1001.00" stroke="#231f20" stroke-width="2.4" stroke-linecap="butt"/>
<line x1="656.69" y1="995.00" x2="656.69" y2="1001.00" stroke="#231f20" stroke-width="2.4" stroke-linecap="butt"/>
<text x="52.68" y="542.24" font-size="22.20" fill="#231f20" stroke="#231f20" textLength="22.15" lengthAdjust="spacingAndGlyphs">15</text>
<text x="51.77" y="696.94" font-size="22.20" fill="#231f20" stroke="#231f20" textLength="23.76" lengthAdjust="spacingAndGlyphs">10</text>
<text x="65.37" y="852.84" font-size="22.20" fill="#231f20" stroke="#231f20" textLength="10.21" lengthAdjust="spacingAndGlyphs">5</text>
<text x="64.34" y="1005.64" font-size="22.20" fill="#231f20" stroke="#231f20" textLength="12.22" lengthAdjust="spacingAndGlyphs">0</text>
<text x="88.40" y="1025.24" font-size="22.20" fill="#231f20" stroke="#231f20" textLength="24.36" lengthAdjust="spacingAndGlyphs">20</text>
<text x="167.26" y="1025.24" font-size="22.20" fill="#231f20" stroke="#231f20" textLength="24.91" lengthAdjust="spacingAndGlyphs">60</text>
<text x="240.61" y="1025.24" font-size="22.20" fill="#231f20" stroke="#231f20" textLength="37.06" lengthAdjust="spacingAndGlyphs">100</text>
<text x="320.87" y="1025.24" font-size="22.20" fill="#231f20" stroke="#231f20" textLength="35.66" lengthAdjust="spacingAndGlyphs">140</text>
<text x="399.68" y="1025.24" font-size="22.20" fill="#231f20" stroke="#231f20" textLength="35.45" lengthAdjust="spacingAndGlyphs">180</text>
<text x="478.90" y="1025.24" font-size="22.20" fill="#231f20" stroke="#231f20" textLength="36.45" lengthAdjust="spacingAndGlyphs">220</text>
<text x="559.03" y="1025.24" font-size="22.20" fill="#231f20" stroke="#231f20" textLength="35.40" lengthAdjust="spacingAndGlyphs">260</text>
<text x="637.87" y="1025.24" font-size="22.20" fill="#231f20" stroke="#231f20" textLength="36.17" lengthAdjust="spacingAndGlyphs">300</text>
<rect x="118.70" y="614.10" width="16.90" height="5.80" fill="#231f20" />
<rect x="157.30" y="614.10" width="16.90" height="5.80" fill="#231f20" />
<rect x="199.90" y="614.10" width="57.90" height="5.80" fill="#231f20" />
<rect x="118.70" y="644.00" width="16.90" height="5.80" fill="#10aee8" />
<rect x="157.30" y="644.00" width="16.90" height="5.80" fill="#10aee8" />
<rect x="199.90" y="644.00" width="57.90" height="5.80" fill="#10aee8" />
<rect x="118.70" y="671.10" width="16.90" height="5.80" fill="#e6268f" />
<rect x="157.30" y="671.10" width="16.90" height="5.80" fill="#e6268f" />
<rect x="199.90" y="671.10" width="57.90" height="5.80" fill="#e6268f" />
<text x="283.22" y="623.10" font-size="22.60" fill="#231f20" stroke="#231f20" textLength="55.34" lengthAdjust="spacingAndGlyphs">Noise</text>
<text x="283.38" y="651.10" font-size="22.60" fill="#10aee8" stroke="#10aee8" textLength="51.54" lengthAdjust="spacingAndGlyphs">ChR2</text>
<text x="283.28" y="679.70" font-size="22.60" fill="#e6268f" stroke="#e6268f" textLength="83.11" lengthAdjust="spacingAndGlyphs">Chronos</text>
<text transform="translate(146.70,602.20) rotate(-45)" font-size="22.5" fill="#231f20" stroke="#231f20" textLength="64" lengthAdjust="spacingAndGlyphs">Spont.</text>
<text transform="translate(214.80,600.80) rotate(-45)" font-size="22.8" fill="#231f20" stroke="#231f20" textLength="72.5" lengthAdjust="spacingAndGlyphs">Evoked</text>
<rect x="96.40" y="977.00" width="22.60" height="5.00" fill="#e6268f" />
<rect x="136.10" y="977.00" width="10.60" height="5.00" fill="#e6268f" />
<rect x="153.90" y="977.00" width="34.50" height="5.00" fill="#e6268f" />
<rect x="215.00" y="977.00" width="50.80" height="5.00" fill="#e6268f" />
<rect x="292.40" y="977.00" width="34.70" height="5.00" fill="#e6268f" />
<rect x="334.00" y="977.00" width="11.20" height="5.00" fill="#e6268f" />
<rect x="362.00" y="977.00" width="34.70" height="5.00" fill="#e6268f" />
<rect x="413.30" y="977.00" width="11.20" height="5.00" fill="#e6268f" />
<rect x="431.40" y="977.00" width="34.80" height="5.00" fill="#e6268f" />
<rect x="492.30" y="977.00" width="50.50" height="5.00" fill="#e6268f" />
<rect x="570.30" y="977.00" width="34.40" height="5.00" fill="#e6268f" />
<rect x="611.10" y="977.00" width="11.10" height="5.00" fill="#e6268f" />
<rect x="639.70" y="977.00" width="21.90" height="5.00" fill="#e6268f" />
<rect x="96.40" y="974.70" width="22.60" height="4.00" fill="#10aee8" />
<rect x="136.10" y="973.40" width="10.60" height="4.00" fill="#10aee8" />
<rect x="431.40" y="974.40" width="34.80" height="4.00" fill="#10aee8" />
<rect x="96.40" y="975.00" width="22.60" height="5.60" fill="#231f20" />
<rect x="136.10" y="975.00" width="10.60" height="5.60" fill="#231f20" />
<rect x="153.90" y="975.00" width="34.50" height="5.60" fill="#231f20" />
<rect x="215.00" y="975.00" width="50.80" height="5.60" fill="#231f20" />
<rect x="292.40" y="975.00" width="34.70" height="5.60" fill="#231f20" />
<rect x="334.00" y="975.00" width="11.20" height="5.60" fill="#231f20" />
<rect x="362.00" y="975.00" width="34.70" height="5.60" fill="#231f20" />
<rect x="413.30" y="975.00" width="11.20" height="5.60" fill="#231f20" />
<rect x="431.40" y="975.00" width="34.80" height="5.60" fill="#231f20" />
<rect x="492.30" y="975.00" width="50.50" height="5.60" fill="#231f20" />
<rect x="570.30" y="975.00" width="34.40" height="5.60" fill="#231f20" />
<rect x="611.10" y="975.00" width="11.10" height="5.60" fill="#231f20" />
<rect x="639.70" y="975.00" width="21.90" height="5.60" fill="#231f20" />
<rect x="329.30" y="951.60" width="10.60" height="4.90" fill="#e6268f" />
<polyline points="101.9,892.8 141.5,843.2 181.2,867.3 220.8,883.8 260.4,904.0 300.0,909.9 339.7,919.0 379.3,927.1 418.9,932.4 458.6,937.1 498.2,942.0 537.8,942.9 577.4,954.0 617.1,954.5 656.7,968.9" fill="none" stroke="#10aee8" stroke-width="5.1" stroke-linejoin="round"/>
<rect x="99.40" y="887.20" width="5.00" height="11.30" fill="#10aee8" />
<rect x="96.40" y="887.20" width="11.00" height="5.40" fill="#10aee8" />
<rect x="96.40" y="893.10" width="11.00" height="5.40" fill="#10aee8" />
<rect x="139.03" y="838.10" width="5.00" height="10.20" fill="#10aee8" />
<rect x="136.03" y="838.10" width="11.00" height="5.40" fill="#10aee8" />
<rect x="136.03" y="842.90" width="11.00" height="5.40" fill="#10aee8" />
<rect x="178.66" y="861.50" width="5.00" height="11.60" fill="#10aee8" />
<rect x="175.66" y="861.50" width="11.00" height="5.40" fill="#10aee8" />
<rect x="175.66" y="867.70" width="11.00" height="5.40" fill="#10aee8" />
<rect x="218.28" y="875.50" width="5.00" height="16.60" fill="#10aee8" />
<rect x="215.28" y="875.50" width="11.00" height="5.40" fill="#10aee8" />
<rect x="215.28" y="886.70" width="11.00" height="5.40" fill="#10aee8" />
<rect x="257.91" y="894.80" width="5.00" height="18.40" fill="#10aee8" />
<rect x="254.91" y="894.80" width="11.00" height="5.40" fill="#10aee8" />
<rect x="254.91" y="907.80" width="11.00" height="5.40" fill="#10aee8" />
<rect x="297.54" y="900.10" width="5.00" height="19.60" fill="#10aee8" />
<rect x="294.54" y="900.10" width="11.00" height="5.40" fill="#10aee8" />
<rect x="294.54" y="914.30" width="11.00" height="5.40" fill="#10aee8" />
<rect x="337.17" y="909.60" width="5.00" height="18.90" fill="#10aee8" />
<rect x="334.17" y="909.60" width="11.00" height="5.40" fill="#10aee8" />
<rect x="334.17" y="923.10" width="11.00" height="5.40" fill="#10aee8" />
<rect x="376.80" y="917.70" width="5.00" height="18.90" fill="#10aee8" />
<rect x="373.80" y="917.70" width="11.00" height="5.40" fill="#10aee8" />
<rect x="373.80" y="931.20" width="11.00" height="5.40" fill="#10aee8" />
<rect x="416.42" y="922.90" width="5.00" height="18.90" fill="#10aee8" />
<rect x="413.42" y="922.90" width="11.00" height="5.40" fill="#10aee8" />
<rect x="413.42" y="936.40" width="11.00" height="5.40" fill="#10aee8" />
<rect x="456.05" y="928.20" width="5.00" height="17.80" fill="#10aee8" />
<rect x="453.05" y="928.20" width="11.00" height="5.40" fill="#10aee8" />
<rect x="453.05" y="940.60" width="11.00" height="5.40" fill="#10aee8" />
<rect x="495.68" y="934.30" width="5.00" height="15.40" fill="#10aee8" />
<rect x="492.68" y="934.30" width="11.00" height="5.40" fill="#10aee8" />
<rect x="492.68" y="944.30" width="11.00" height="5.40" fill="#10aee8" />
<rect x="535.31" y="935.00" width="5.00" height="15.70" fill="#10aee8" />
<rect x="532.31" y="935.00" width="11.00" height="5.40" fill="#10aee8" />
<rect x="532.31" y="945.30" width="11.00" height="5.40" fill="#10aee8" />
<rect x="574.94" y="947.70" width="5.00" height="12.60" fill="#10aee8" />
<rect x="571.94" y="947.70" width="11.00" height="5.40" fill="#10aee8" />
<rect x="571.94" y="954.90" width="11.00" height="5.40" fill="#10aee8" />
<rect x="614.56" y="947.30" width="5.00" height="14.40" fill="#10aee8" />
<rect x="611.56" y="947.30" width="11.00" height="5.40" fill="#10aee8" />
<rect x="611.56" y="956.30" width="11.00" height="5.40" fill="#10aee8" />
<rect x="654.19" y="963.40" width="5.00" height="10.90" fill="#10aee8" />
<rect x="651.19" y="963.40" width="11.00" height="5.40" fill="#10aee8" />
<rect x="651.19" y="968.90" width="11.00" height="5.40" fill="#10aee8" />
<polyline points="101.9,924.8 141.5,852.7 181.2,806.8 220.8,766.7 260.4,759.1 300.0,772.4 339.7,792.0 379.3,819.0 418.9,837.9 458.6,844.7 498.2,867.0 537.8,880.5 577.4,886.8 617.1,894.8 656.7,911.1" fill="none" stroke="#e6268f" stroke-width="5.1" stroke-linejoin="round"/>
<rect x="99.40" y="919.30" width="5.00" height="10.90" fill="#e6268f" />
<rect x="96.40" y="919.30" width="11.00" height="5.40" fill="#e6268f" />
<rect x="96.40" y="924.80" width="11.00" height="5.40" fill="#e6268f" />
<rect x="139.03" y="844.00" width="5.00" height="17.40" fill="#e6268f" />
<rect x="136.03" y="844.00" width="11.00" height="5.40" fill="#e6268f" />
<rect x="136.03" y="856.00" width="11.00" height="5.40" fill="#e6268f" />
<rect x="178.66" y="795.80" width="5.00" height="21.90" fill="#e6268f" />
<rect x="175.66" y="795.80" width="11.00" height="5.40" fill="#e6268f" />
<rect x="175.66" y="812.30" width="11.00" height="5.40" fill="#e6268f" />
<rect x="218.28" y="751.40" width="5.00" height="30.60" fill="#e6268f" />
<rect x="215.28" y="751.40" width="11.00" height="5.40" fill="#e6268f" />
<rect x="215.28" y="776.60" width="11.00" height="5.40" fill="#e6268f" />
<rect x="257.91" y="742.10" width="5.00" height="34.10" fill="#e6268f" />
<rect x="254.91" y="742.10" width="11.00" height="5.40" fill="#e6268f" />
<rect x="254.91" y="770.80" width="11.00" height="5.40" fill="#e6268f" />
<rect x="297.54" y="753.30" width="5.00" height="38.20" fill="#e6268f" />
<rect x="294.54" y="753.30" width="11.00" height="5.40" fill="#e6268f" />
<rect x="294.54" y="786.10" width="11.00" height="5.40" fill="#e6268f" />
<rect x="337.17" y="775.70" width="5.00" height="32.60" fill="#e6268f" />
<rect x="334.17" y="775.70" width="11.00" height="5.40" fill="#e6268f" />
<rect x="334.17" y="802.90" width="11.00" height="5.40" fill="#e6268f" />
<rect x="376.80" y="803.80" width="5.00" height="30.30" fill="#e6268f" />
<rect x="373.80" y="803.80" width="11.00" height="5.40" fill="#e6268f" />
<rect x="373.80" y="828.70" width="11.00" height="5.40" fill="#e6268f" />
<rect x="416.42" y="824.00" width="5.00" height="27.70" fill="#e6268f" />
<rect x="413.42" y="824.00" width="11.00" height="5.40" fill="#e6268f" />
<rect x="413.42" y="846.30" width="11.00" height="5.40" fill="#e6268f" />
<rect x="456.05" y="830.40" width="5.00" height="28.50" fill="#e6268f" />
<rect x="453.05" y="830.40" width="11.00" height="5.40" fill="#e6268f" />
<rect x="453.05" y="853.50" width="11.00" height="5.40" fill="#e6268f" />
<rect x="495.68" y="854.60" width="5.00" height="24.80" fill="#e6268f" />
<rect x="492.68" y="854.60" width="11.00" height="5.40" fill="#e6268f" />
<rect x="492.68" y="874.00" width="11.00" height="5.40" fill="#e6268f" />
<rect x="535.31" y="868.80" width="5.00" height="23.40" fill="#e6268f" />
<rect x="532.31" y="868.80" width="11.00" height="5.40" fill="#e6268f" />
<rect x="532.31" y="886.80" width="11.00" height="5.40" fill="#e6268f" />
<rect x="574.94" y="875.10" width="5.00" height="23.30" fill="#e6268f" />
<rect x="571.94" y="875.10" width="11.00" height="5.40" fill="#e6268f" />
<rect x="571.94" y="893.00" width="11.00" height="5.40" fill="#e6268f" />
<rect x="614.56" y="883.80" width="5.00" height="21.90" fill="#e6268f" />
<rect x="611.56" y="883.80" width="11.00" height="5.40" fill="#e6268f" />
<rect x="611.56" y="900.30" width="11.00" height="5.40" fill="#e6268f" />
<rect x="654.19" y="902.80" width="5.00" height="16.60" fill="#e6268f" />
<rect x="651.19" y="902.80" width="11.00" height="5.40" fill="#e6268f" />
<rect x="651.19" y="914.00" width="11.00" height="5.40" fill="#e6268f" />
<polyline points="101.9,922.0 141.5,878.2 181.2,849.8 220.8,831.5 260.4,821.5 300.0,825.1 339.7,816.3 379.3,810.5 418.9,803.5 458.6,796.0 498.2,788.0 537.8,780.0 577.4,776.8 617.1,772.8 656.7,768.7" fill="none" stroke="#231f20" stroke-width="5.1" stroke-linejoin="round"/>
<rect x="99.40" y="916.30" width="5.00" height="11.40" fill="#231f20" />
<rect x="96.40" y="916.30" width="11.00" height="5.40" fill="#231f20" />
<rect x="96.40" y="922.30" width="11.00" height="5.40" fill="#231f20" />
<rect x="139.03" y="868.80" width="5.00" height="18.90" fill="#231f20" />
<rect x="136.03" y="868.80" width="11.00" height="5.40" fill="#231f20" />
<rect x="136.03" y="882.30" width="11.00" height="5.40" fill="#231f20" />
<rect x="178.66" y="838.10" width="5.00" height="23.30" fill="#231f20" />
<rect x="175.66" y="838.10" width="11.00" height="5.40" fill="#231f20" />
<rect x="175.66" y="856.00" width="11.00" height="5.40" fill="#231f20" />
<rect x="218.28" y="817.30" width="5.00" height="28.40" fill="#231f20" />
<rect x="215.28" y="817.30" width="11.00" height="5.40" fill="#231f20" />
<rect x="215.28" y="840.30" width="11.00" height="5.40" fill="#231f20" />
<rect x="257.91" y="806.30" width="5.00" height="30.40" fill="#231f20" />
<rect x="254.91" y="806.30" width="11.00" height="5.40" fill="#231f20" />
<rect x="254.91" y="831.30" width="11.00" height="5.40" fill="#231f20" />
<rect x="297.54" y="809.80" width="5.00" height="30.60" fill="#231f20" />
<rect x="294.54" y="809.80" width="11.00" height="5.40" fill="#231f20" />
<rect x="294.54" y="835.00" width="11.00" height="5.40" fill="#231f20" />
<rect x="337.17" y="799.60" width="5.00" height="33.50" fill="#231f20" />
<rect x="334.17" y="799.60" width="11.00" height="5.40" fill="#231f20" />
<rect x="334.17" y="827.70" width="11.00" height="5.40" fill="#231f20" />
<rect x="376.80" y="794.00" width="5.00" height="33.00" fill="#231f20" />
<rect x="373.80" y="794.00" width="11.00" height="5.40" fill="#231f20" />
<rect x="373.80" y="821.60" width="11.00" height="5.40" fill="#231f20" />
<rect x="416.42" y="786.00" width="5.00" height="35.00" fill="#231f20" />
<rect x="413.42" y="786.00" width="11.00" height="5.40" fill="#231f20" />
<rect x="413.42" y="815.60" width="11.00" height="5.40" fill="#231f20" />
<rect x="456.05" y="777.80" width="5.00" height="36.50" fill="#231f20" />
<rect x="453.05" y="777.80" width="11.00" height="5.40" fill="#231f20" />
<rect x="453.05" y="808.90" width="11.00" height="5.40" fill="#231f20" />
<rect x="495.68" y="768.80" width="5.00" height="38.50" fill="#231f20" />
<rect x="492.68" y="768.80" width="11.00" height="5.40" fill="#231f20" />
<rect x="492.68" y="801.90" width="11.00" height="5.40" fill="#231f20" />
<rect x="535.31" y="760.80" width="5.00" height="38.30" fill="#231f20" />
<rect x="532.31" y="760.80" width="11.00" height="5.40" fill="#231f20" />
<rect x="532.31" y="793.70" width="11.00" height="5.40" fill="#231f20" />
<rect x="574.94" y="757.40" width="5.00" height="38.80" fill="#231f20" />
<rect x="571.94" y="757.40" width="11.00" height="5.40" fill="#231f20" />
<rect x="571.94" y="790.80" width="11.00" height="5.40" fill="#231f20" />
<rect x="614.56" y="752.10" width="5.00" height="41.40" fill="#231f20" />
<rect x="611.56" y="752.10" width="11.00" height="5.40" fill="#231f20" />
<rect x="611.56" y="788.10" width="11.00" height="5.40" fill="#231f20" />
<rect x="654.19" y="748.60" width="5.00" height="40.20" fill="#231f20" />
<rect x="651.19" y="748.60" width="11.00" height="5.40" fill="#231f20" />
<rect x="651.19" y="783.40" width="11.00" height="5.40" fill="#231f20" />
<text x="-1.87" y="1060.52" font-size="39.00" fill="#231f20" stroke="#231f20" textLength="23.50" lengthAdjust="spacingAndGlyphs">d</text>
<text transform="translate(35.40,1394.46) rotate(-90)" font-size="26.00" fill="#231f20" stroke="#231f20" textLength="159.15" lengthAdjust="spacingAndGlyphs">Sensitivity (d’)</text>
<line x1="82.00" y1="1075.50" x2="82.00" y2="1545.00" stroke="#231f20" stroke-width="2.4" stroke-linecap="butt"/>
<line x1="80.80" y1="1543.60" x2="674.00" y2="1543.60" stroke="#231f20" stroke-width="2.6" stroke-linecap="butt"/>
<line x1="82.00" y1="1485.25" x2="88.00" y2="1485.25" stroke="#231f20" stroke-width="2.4" stroke-linecap="butt"/>
<line x1="82.00" y1="1426.90" x2="88.00" y2="1426.90" stroke="#231f20" stroke-width="2.4" stroke-linecap="butt"/>
<line x1="82.00" y1="1368.55" x2="88.00" y2="1368.55" stroke="#231f20" stroke-width="2.4" stroke-linecap="butt"/>
<line x1="82.00" y1="1310.20" x2="88.00" y2="1310.20" stroke="#231f20" stroke-width="2.4" stroke-linecap="butt"/>
<line x1="82.00" y1="1251.85" x2="88.00" y2="1251.85" stroke="#231f20" stroke-width="2.4" stroke-linecap="butt"/>
<line x1="82.00" y1="1193.50" x2="88.00" y2="1193.50" stroke="#231f20" stroke-width="2.4" stroke-linecap="butt"/>
<line x1="82.00" y1="1135.15" x2="88.00" y2="1135.15" stroke="#231f20" stroke-width="2.4" stroke-linecap="butt"/>
<line x1="82.00" y1="1076.80" x2="88.00" y2="1076.80" stroke="#231f20" stroke-width="2.4" stroke-linecap="butt"/>
<line x1="140.70" y1="1537.00" x2="140.70" y2="1543.60" stroke="#231f20" stroke-width="2.4" stroke-linecap="butt"/>
<line x1="259.00" y1="1537.00" x2="259.00" y2="1543.60" stroke="#231f20" stroke-width="2.4" stroke-linecap="butt"/>
<line x1="377.30" y1="1537.00" x2="377.30" y2="1543.60" stroke="#231f20" stroke-width="2.4" stroke-linecap="butt"/>
<line x1="495.61" y1="1537.00" x2="495.61" y2="1543.60" stroke="#231f20" stroke-width="2.4" stroke-linecap="butt"/>
<line x1="613.91" y1="1537.00" x2="613.91" y2="1543.60" stroke="#231f20" stroke-width="2.4" stroke-linecap="butt"/>
<text x="64.28" y="1550.44" font-size="22.20" fill="#231f20" stroke="#231f20" textLength="11.63" lengthAdjust="spacingAndGlyphs">0</text>
<text x="63.33" y="1492.44" font-size="22.20" fill="#231f20" stroke="#231f20" textLength="12.90" lengthAdjust="spacingAndGlyphs">1</text>
<text x="64.00" y="1434.44" font-size="22.20" fill="#231f20" stroke="#231f20" textLength="12.21" lengthAdjust="spacingAndGlyphs">2</text>
<text x="64.30" y="1376.44" font-size="22.20" fill="#231f20" stroke="#231f20" textLength="11.73" lengthAdjust="spacingAndGlyphs">3</text>
<text x="64.64" y="1318.44" font-size="22.20" fill="#231f20" stroke="#231f20" textLength="11.04" lengthAdjust="spacingAndGlyphs">4</text>
<text x="64.26" y="1260.44" font-size="22.20" fill="#231f20" stroke="#231f20" textLength="11.73" lengthAdjust="spacingAndGlyphs">5</text>
<text x="64.00" y="1202.44" font-size="22.20" fill="#231f20" stroke="#231f20" textLength="12.05" lengthAdjust="spacingAndGlyphs">6</text>
<text x="63.97" y="1144.44" font-size="22.20" fill="#231f20" stroke="#231f20" textLength="12.23" lengthAdjust="spacingAndGlyphs">7</text>
<text x="64.17" y="1086.44" font-size="22.20" fill="#231f20" stroke="#231f20" textLength="11.85" lengthAdjust="spacingAndGlyphs">8</text>
<text x="125.67" y="1570.14" font-size="22.20" fill="#231f20" stroke="#231f20" textLength="24.80" lengthAdjust="spacingAndGlyphs">60</text>
<text x="238.97" y="1570.14" font-size="22.20" fill="#231f20" stroke="#231f20" textLength="35.77" lengthAdjust="spacingAndGlyphs">120</text>
<text x="356.56" y="1570.14" font-size="22.20" fill="#231f20" stroke="#231f20" textLength="35.88" lengthAdjust="spacingAndGlyphs">180</text>
<text x="474.97" y="1570.14" font-size="22.20" fill="#231f20" stroke="#231f20" textLength="37.51" lengthAdjust="spacingAndGlyphs">240</text>
<text x="594.16" y="1570.14" font-size="22.20" fill="#231f20" stroke="#231f20" textLength="36.59" lengthAdjust="spacingAndGlyphs">300</text>
<text x="287.93" y="1607.00" font-size="26.00" fill="#231f20" stroke="#231f20" textLength="159.75" lengthAdjust="spacingAndGlyphs">Pulse rate (Hz)</text>
<polyline points="140.7,1331.0 259.0,1418.8 377.3,1460.3 495.6,1478.1 613.9,1527.5" fill="none" stroke="#10aee8" stroke-width="5.7" stroke-linejoin="round"/>
<rect x="138.35" y="1316.10" width="4.70" height="29.90" fill="#10aee8" />
<rect x="135.80" y="1316.10" width="9.80" height="5.40" fill="#10aee8" />
<rect x="135.80" y="1340.60" width="9.80" height="5.40" fill="#10aee8" />
<rect x="256.65" y="1402.10" width="4.70" height="33.50" fill="#10aee8" />
<rect x="254.10" y="1402.10" width="9.80" height="5.40" fill="#10aee8" />
<rect x="254.10" y="1430.20" width="9.80" height="5.40" fill="#10aee8" />
<rect x="374.95" y="1445.00" width="4.70" height="30.60" fill="#10aee8" />
<rect x="372.40" y="1445.00" width="9.80" height="5.40" fill="#10aee8" />
<rect x="372.40" y="1470.20" width="9.80" height="5.40" fill="#10aee8" />
<rect x="493.26" y="1466.70" width="4.70" height="22.80" fill="#10aee8" />
<rect x="490.71" y="1466.70" width="9.80" height="5.40" fill="#10aee8" />
<rect x="490.71" y="1484.10" width="9.80" height="5.40" fill="#10aee8" />
<rect x="611.56" y="1521.30" width="4.70" height="12.50" fill="#10aee8" />
<rect x="609.01" y="1521.30" width="9.80" height="5.40" fill="#10aee8" />
<rect x="609.01" y="1528.40" width="9.80" height="5.40" fill="#10aee8" />
<polyline points="140.7,1222.7 259.0,1156.5 377.3,1277.2 495.6,1362.0 613.9,1420.6" fill="none" stroke="#e6268f" stroke-width="5.7" stroke-linejoin="round"/>
<rect x="138.35" y="1202.20" width="4.70" height="40.90" fill="#e6268f" />
<rect x="135.80" y="1202.20" width="9.80" height="5.40" fill="#e6268f" />
<rect x="135.80" y="1237.70" width="9.80" height="5.40" fill="#e6268f" />
<rect x="256.65" y="1124.70" width="4.70" height="63.60" fill="#e6268f" />
<rect x="254.10" y="1124.70" width="9.80" height="5.40" fill="#e6268f" />
<rect x="254.10" y="1182.90" width="9.80" height="5.40" fill="#e6268f" />
<rect x="374.95" y="1250.80" width="4.70" height="52.90" fill="#e6268f" />
<rect x="372.40" y="1250.80" width="9.80" height="5.40" fill="#e6268f" />
<rect x="372.40" y="1298.30" width="9.80" height="5.40" fill="#e6268f" />
<rect x="493.26" y="1342.30" width="4.70" height="39.40" fill="#e6268f" />
<rect x="490.71" y="1342.30" width="9.80" height="5.40" fill="#e6268f" />
<rect x="490.71" y="1376.30" width="9.80" height="5.40" fill="#e6268f" />
<rect x="611.56" y="1406.00" width="4.70" height="29.20" fill="#e6268f" />
<rect x="609.01" y="1406.00" width="9.80" height="5.40" fill="#e6268f" />
<rect x="609.01" y="1429.80" width="9.80" height="5.40" fill="#e6268f" />
<polyline points="140.7,1307.0 259.0,1259.9 377.3,1218.8 495.6,1174.4 613.9,1154.0" fill="none" stroke="#231f20" stroke-width="5.7" stroke-linejoin="round"/>
<rect x="138.35" y="1285.50" width="4.70" height="43.00" fill="#231f20" />
<rect x="135.80" y="1285.50" width="9.80" height="5.40" fill="#231f20" />
<rect x="135.80" y="1323.10" width="9.80" height="5.40" fill="#231f20" />
<rect x="256.65" y="1231.60" width="4.70" height="56.60" fill="#231f20" />
<rect x="254.10" y="1231.60" width="9.80" height="5.40" fill="#231f20" />
<rect x="254.10" y="1282.80" width="9.80" height="5.40" fill="#231f20" />
<rect x="374.95" y="1186.90" width="4.70" height="63.80" fill="#231f20" />
<rect x="372.40" y="1186.90" width="9.80" height="5.40" fill="#231f20" />
<rect x="372.40" y="1245.30" width="9.80" height="5.40" fill="#231f20" />
<rect x="493.26" y="1140.90" width="4.70" height="67.10" fill="#231f20" />
<rect x="490.71" y="1140.90" width="9.80" height="5.40" fill="#231f20" />
<rect x="490.71" y="1202.60" width="9.80" height="5.40" fill="#231f20" />
<rect x="611.56" y="1119.00" width="4.70" height="70.00" fill="#231f20" />
<rect x="609.01" y="1119.00" width="9.80" height="5.40" fill="#231f20" />
<rect x="609.01" y="1183.60" width="9.80" height="5.40" fill="#231f20" />
</svg></body></html>
